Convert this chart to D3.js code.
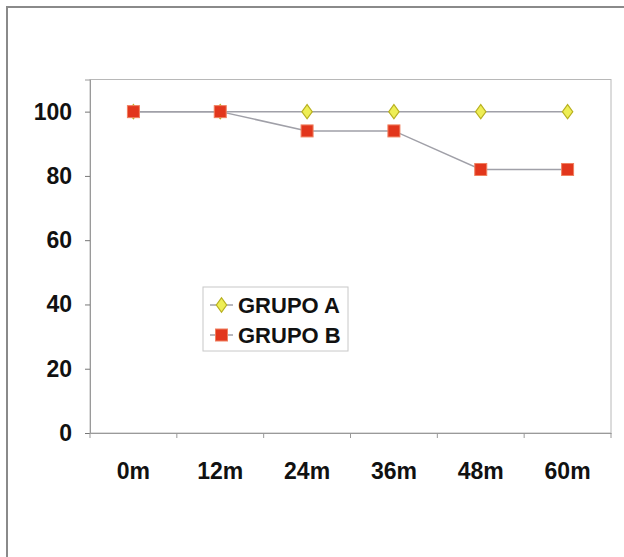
<!DOCTYPE html>
<html><head><meta charset="utf-8">
<script src="https://cdn.jsdelivr.net/npm/d3@7/dist/d3.min.js"></script>
<style>body{margin:0;background:#fff}svg{display:block}</style>
</head><body><div id="chart"></div>
<script>
const categories = ["0m","12m","24m","36m","48m","60m"];
const grupoA = [100,100,100,100,100,100];
const grupoB = [100,100,94,94,82,82];
const yTicks = [0,20,40,60,80,100];
const seriesNames = ["GRUPO A","GRUPO B"];

(function(){
const W=624,H=557;
const svg=d3.select("#chart").append("svg").attr("width",W).attr("height",H);
svg.append("rect").attr("width",W).attr("height",H).attr("fill","#fff");
// outer frame
svg.append("path").attr("d","M7,560 L7,7 L630,7").attr("fill","none").attr("stroke","#8a8a8a").attr("stroke-width",2);

const pLeft=90,pRight=611,pTop=79.5,pBottom=433;
const x=d3.scaleBand().domain(categories).range([pLeft,pRight]).padding(0);
const y=d3.scaleLinear().domain([0,110]).range([pBottom,pTop]);
const font="Liberation Sans, Arial, Helvetica, sans-serif";

// plot border
svg.append("rect").attr("x",pLeft).attr("y",pTop).attr("width",pRight-pLeft).attr("height",pBottom-pTop)
  .attr("fill","none").attr("stroke","#b8b8b8").attr("stroke-width",1);

// y axis
const yAxis=svg.append("g").attr("transform",`translate(${pLeft},0)`)
  .call(d3.axisLeft(y).tickValues(yTicks).tickSize(5).tickPadding(13));
yAxis.select(".domain").attr("stroke","#9a9a9a");
yAxis.selectAll(".tick line").attr("stroke","#777");
yAxis.selectAll("text").attr("font-family",font).attr("font-size",23).attr("font-weight","bold").attr("fill","#111");

// x axis
const xAxis=svg.append("g").attr("transform",`translate(0,${pBottom})`)
  .call(d3.axisBottom(x).tickSize(0).tickPadding(30));
xAxis.select(".domain").attr("stroke","#9a9a9a");
xAxis.selectAll("text").attr("font-family",font).attr("font-size",23).attr("font-weight","bold").attr("fill","#111");
// category boundary ticks
const bounds=categories.map(c=>x(c)).concat([pRight]);
svg.append("g").selectAll("line").data(bounds).join("line")
  .attr("x1",d=>d).attr("x2",d=>d).attr("y1",pBottom).attr("y2",pBottom+5).attr("stroke","#999");

const cx=c=>x(c)+x.bandwidth()/2;
const line=d3.line().x(d=>cx(d.c)).y(d=>y(d.v));
const dataA=categories.map((c,i)=>({c,v:grupoA[i]}));
const dataB=categories.map((c,i)=>({c,v:grupoB[i]}));

svg.append("path").datum(dataA).attr("d",line).attr("fill","none").attr("stroke","#a0a0a8").attr("stroke-width",1.5);
svg.append("path").datum(dataB).attr("d",line).attr("fill","none").attr("stroke","#a0a0a8").attr("stroke-width",1.5);

const diamond=d3.symbol().type(d3.symbolDiamond).size(60);
function drawA(g,px,py){
  g.append("path").attr("d",diamond).attr("transform",`translate(${px},${py}) scale(1.25,1)`)
   .attr("fill","#eeee55").attr("stroke","#b8b020").attr("stroke-width",1);
}
function drawB(g,px,py){
  g.append("rect").attr("x",px-6).attr("y",py-6).attr("width",12).attr("height",12)
   .attr("fill","#e2361c").attr("stroke","#f08060").attr("stroke-width",1);
}
const gm=svg.append("g");
dataA.forEach(d=>drawA(gm,cx(d.c),y(d.v)));
dataB.forEach(d=>drawB(gm,cx(d.c),y(d.v)));

// legend
const lg=svg.append("g");
lg.append("rect").attr("x",203).attr("y",287).attr("width",145).attr("height",64)
  .attr("fill","#fff").attr("stroke","#c8c8c8");
const ly=[305,335];
seriesNames.forEach((s,i)=>{
  lg.append("line").attr("x1",210).attr("x2",233).attr("y1",ly[i]).attr("y2",ly[i]).attr("stroke","#a0a0a8").attr("stroke-width",1.5);
  if(i===0) drawA(lg,221.5,ly[i]); else drawB(lg,221.5,ly[i]);
  lg.append("text").attr("x",238).attr("y",ly[i]).attr("dy","0.36em")
    .attr("font-family",font).attr("font-size",22).attr("font-weight","bold").attr("fill","#111").text(s);
});
})();
</script></body></html>
